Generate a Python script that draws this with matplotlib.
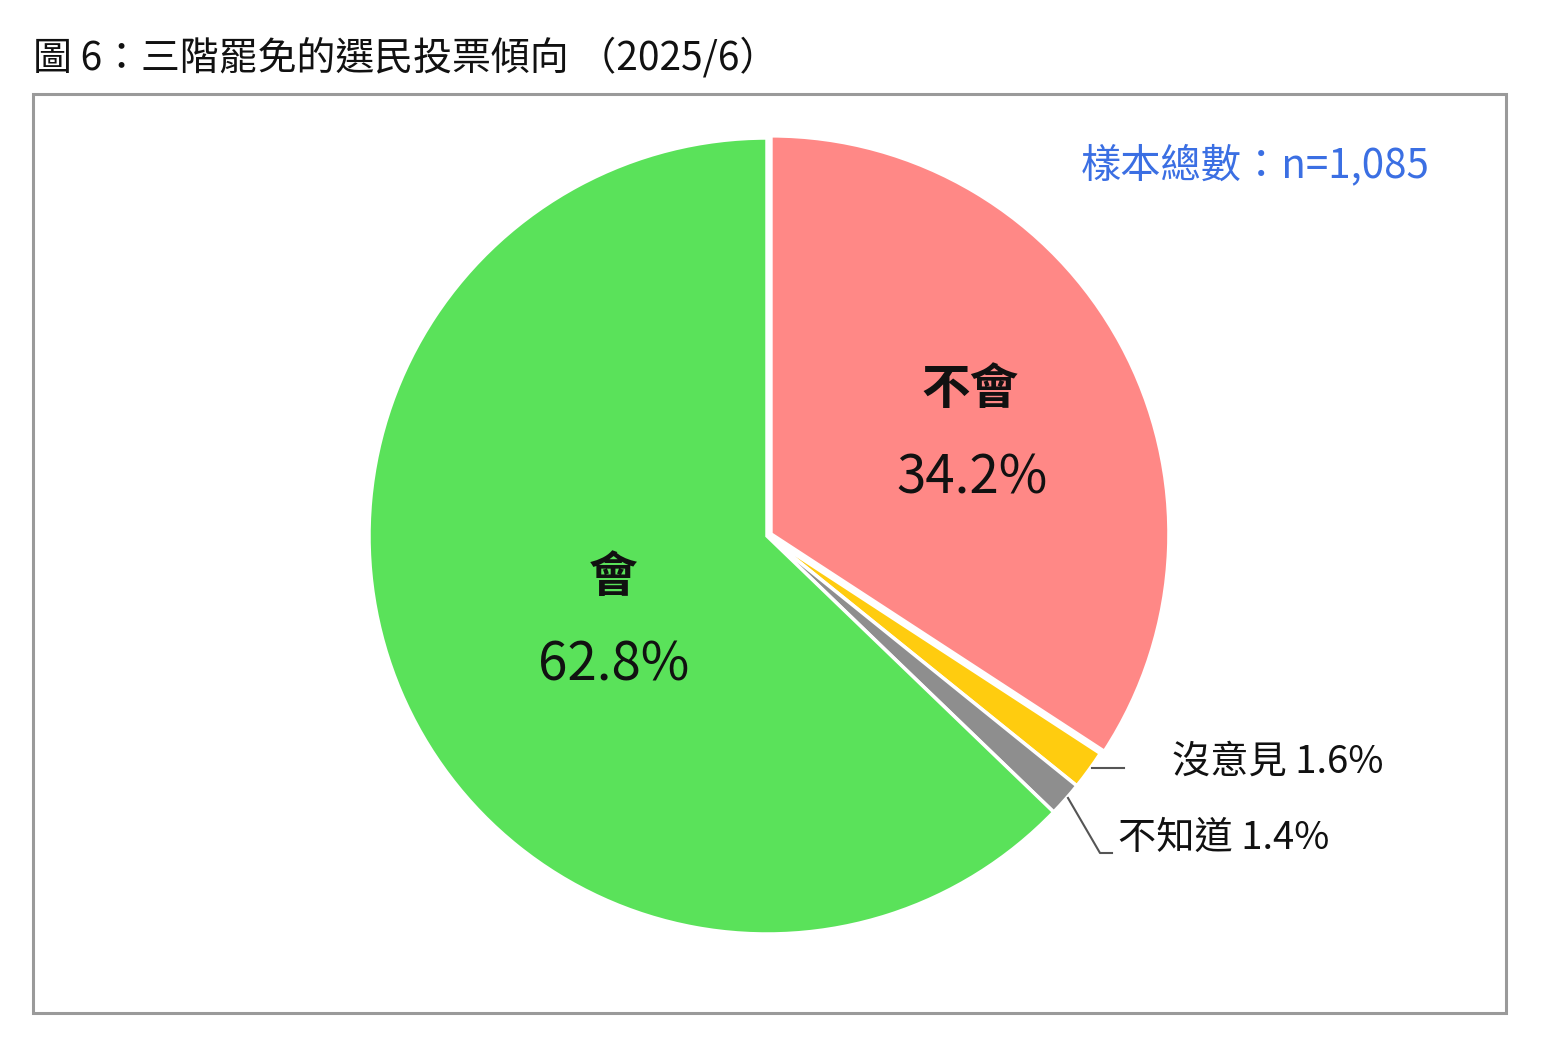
import matplotlib
matplotlib.use("Agg")
import matplotlib.pyplot as plt
from matplotlib.patches import Rectangle

plt.rcParams['font.family'] = ['Noto Sans CJK TC', 'DejaVu Sans']

title = "圖 6：三階罷免的選民投票傾向 （2025/6）"
categories = ["不會", "沒意見", "不知道", "會"]
values = [34.2, 1.6, 1.4, 62.8]
colors = ["#FF8886", "#FFCC0F", "#8E8E8E", "#5AE25A"]
sample_note = "樣本總數：n=1,085"

W, H = 1558, 1050
fig = plt.figure(figsize=(W / 100, H / 100), dpi=100)
fig.patch.set_facecolor("white")

# frame box
fig.patches.append(Rectangle((33 / W, 1 - 1013 / H), (1506 - 33) / W, (1013 - 94) / H,
                             transform=fig.transFigure, fill=False,
                             edgecolor="#9A9A9A", linewidth=2.2))
fig.text(33 / W, 1 - 58 / H, title, fontsize=28, va="center", ha="left", color="#111111")

ax = fig.add_axes([33 / W, 1 - 1013 / H, (1506 - 33) / W, (1013 - 94) / H])

cx, cy, r = 767, H - 536, 398
ax.pie(values, colors=colors, startangle=90, counterclock=False,
       explode=[4.5, 0, 0, 0],
       center=(cx, cy), radius=r, frame=True,
       wedgeprops=dict(edgecolor="white", linewidth=2.5))
ax.set_xlim(33, 1506)
ax.set_ylim(H - 1013, H - 94)
ax.set_aspect("equal")
ax.axis("off")

# inner labels
ax.text(970, H - 390, categories[0], fontsize=35, ha="center", va="center", fontweight="bold", color="#111")
ax.text(972, H - 478, f"{values[0]}%", fontsize=38, ha="center", va="center", color="#111")
ax.text(613, H - 577, categories[3], fontsize=35, ha="center", va="center", fontweight="bold", color="#111")
ax.text(614, H - 665, f"{values[3]}%", fontsize=38, ha="center", va="center", color="#111")

# outer labels with leader lines
ax.plot([1092, 1124], [H - 768, H - 768], color="#555555", lw=1.5)
ax.text(1172, H - 762, f"{categories[1]} {values[1]}%", fontsize=27.5, ha="left", va="center", color="#111")
ax.plot([1068, 1100, 1112], [H - 798, H - 853, H - 853], color="#555555", lw=1.5)
ax.text(1118, H - 838, f"{categories[2]} {values[2]}%", fontsize=27.5, ha="left", va="center", color="#111")

ax.text(1430, H - 165, sample_note, fontsize=29, ha="right", va="center", color="#3B6FE3")

fig.savefig("out.png", dpi=100, facecolor="white")
